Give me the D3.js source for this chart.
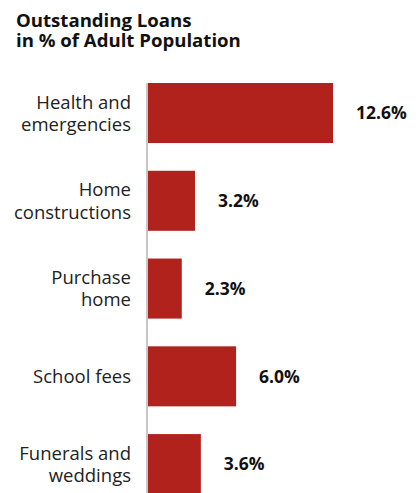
<!DOCTYPE html>
<html>
<head>
<meta charset="utf-8">
<script src="https://d3js.org/d3.v7.min.js"></script>
<style>
body { margin: 0; background: #fff; }
text { font-family: "Open Sans", sans-serif; }
</style>
</head>
<body>
<div id="chart"></div>
<script>
// data
var categories = [
  ["Health and", "emergencies"],
  ["Home", "constructions"],
  ["Purchase", "home"],
  ["School fees"],
  ["Funerals and", "weddings"]
];
var values = [12.6, 3.2, 2.3, 6.0, 3.6];
var titleLines = ["Outstanding Loans", "in % of Adult Population"];

var width = 416, height = 493;
var left = 148;

var svg = d3.select("#chart").append("svg")
  .attr("width", width)
  .attr("height", height);

// title
svg.append("text")
  .attr("x", 16)
  .attr("y", 27)
  .attr("font-size", 18.6)
  .attr("font-weight", "bold")
  .attr("fill", "#111")
  .selectAll("tspan")
  .data(titleLines)
  .join("tspan")
    .attr("x", 16)
    .attr("dy", (d, i) => i ? 20 : 0)
    .text(d => d);

var idx = d3.range(values.length);

var x = d3.scaleLinear()
  .domain([0, 12.6])
  .range([0, 185]);

var y = d3.scaleBand()
  .domain(idx)
  .range([83, 434 + 87.75 * 0.684 + 0.1])
  .paddingInner(0.316)
  .paddingOuter(0);

// axis line
svg.append("line")
  .attr("x1", left - 1).attr("x2", left - 1)
  .attr("y1", 83).attr("y2", height)
  .attr("stroke", "#c6c6c6")
  .attr("stroke-width", 2);

// bars
svg.append("g")
  .selectAll("rect")
  .data(idx)
  .join("rect")
    .attr("x", left)
    .attr("y", i => y(i))
    .attr("width", i => x(values[i]))
    .attr("height", y.bandwidth())
    .attr("fill", "#b0221b");

// value labels
svg.append("g")
  .selectAll("text")
  .data(idx)
  .join("text")
    .attr("x", i => left + x(values[i]) + 23)
    .attr("y", i => y(i) + y.bandwidth() / 2)
    .attr("dy", "0.36em")
    .attr("font-size", 17.5)
    .attr("font-weight", "bold")
    .attr("fill", "#111")
    .text(i => values[i].toFixed(1) + "%");

// category labels
var cat = svg.append("g")
  .selectAll("text")
  .data(idx)
  .join("text")
    .attr("text-anchor", "end")
    .attr("font-size", 18.5)
    .attr("fill", "#222")
    .attr("y", i => y(i) + y.bandwidth() / 2);

cat.selectAll("tspan")
  .data(i => categories[i].map((t, k) => ({t: t, k: k, n: categories[i].length})))
  .join("tspan")
    .attr("x", 131)
    .attr("dy", d => d.k === 0 ? (0.36 - (d.n - 1) * 0.6) + "em" : "1.2em")
    .text(d => d.t);
</script>
</body>
</html>
